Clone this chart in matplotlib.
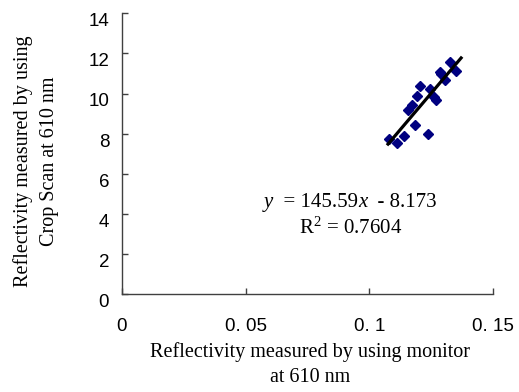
import matplotlib.pyplot as plt
from matplotlib.offsetbox import AnnotationBbox, HPacker, TextArea
from matplotlib.transforms import ScaledTranslation

# monitor reflectivity vs Crop Scan reflectivity at 610 nm
monitor = [0.1080, 0.1113, 0.1140, 0.1185, 0.1235, 0.1154, 0.1171, 0.1192, 0.1205,
           0.1246, 0.1259, 0.1269, 0.1285, 0.1290, 0.1304, 0.1325, 0.1348]
cropscan = [7.72, 7.52, 7.87, 8.41, 7.97, 9.16, 9.45, 9.89, 10.39,
            10.21, 9.85, 9.68, 11.07, 10.97, 10.67, 11.56, 11.14]

slope = 145.59
intercept = -8.173
r2 = 0.7604
fit_x = [0.1075, 0.137]

x_ticks = [0, 0.05, 0.1, 0.15]
x_ticklabels = ['0', '0. 05', '0. 1', '0. 15']
y_ticks = [0, 2, 4, 6, 8, 10, 12, 14]

serif = ['Liberation Serif', 'DejaVu Serif']
sans = ['Liberation Sans', 'DejaVu Sans']

plt.rcParams['mathtext.fontset'] = 'custom'
plt.rcParams['mathtext.rm'] = 'Liberation Serif'
plt.rcParams['mathtext.it'] = 'Liberation Serif:italic'

fig = plt.figure(figsize=(5.19, 3.92), dpi=100)
ax = fig.add_axes([121.7 / 519, 98 / 392, 371.6 / 519, 280.7 / 392])

ax.plot(monitor, cropscan, linestyle='none', marker='D', markersize=5,
        color='#000080', zorder=3)
fit_y = [slope * v + intercept for v in fit_x]
ax.plot(fit_x, fit_y, color='black', linewidth=2.3, zorder=4)

ax.set_xlim(0, 0.15)
ax.set_ylim(0, 14)
ax.set_xticks(x_ticks)
ax.set_xticklabels(x_ticklabels, family=sans, fontsize=13.5)
ax.set_yticks(y_ticks)
ax.set_yticklabels([str(v) for v in y_ticks], family=sans, fontsize=13.5)
ax.tick_params(direction='in', length=4, width=1, color='#404040')
ax.tick_params(axis='x', pad=17)
ax.tick_params(axis='y', pad=9)
# y tick labels sit a little below their ticks in the original
shift = ScaledTranslation(0, -0.065, fig.dpi_scale_trans)
for lab in ax.get_yticklabels():
    lab.set_transform(lab.get_transform() + shift)

for side in ['top', 'right']:
    ax.spines[side].set_visible(False)
for side in ['left', 'bottom']:
    ax.spines[side].set_color('#404040')
    ax.spines[side].set_linewidth(1)

ax.set_xlabel('Reflectivity measured by using monitor\nat 610 nm',
              family=serif, fontsize=14.5, linespacing=1.45)
ax.xaxis.set_label_coords(0.508, -0.17)
ax.set_ylabel('Reflectivity measured by using\nCrop Scan at 610 nm',
              family=serif, fontsize=14.5, linespacing=1.45)
ax.yaxis.set_label_coords(-0.17, 0.472)

# regression equation, italic y and x
pieces = [('y', 'italic'), ('  = 145.59', 'normal'), ('x', 'italic'), ('  - 8.173', 'normal')]
boxes = [TextArea(s, textprops=dict(family=serif, fontsize=15, style=st))
         for s, st in pieces]
eq = HPacker(children=boxes, pad=0, sep=0, align='baseline')
ax.add_artist(AnnotationBbox(eq, (0.0922, 4.54), frameon=False,
                             box_alignment=(0.5, 0.5), pad=0))
ax.text(0.0922, 3.29, r'R$^2$ = 0.7604', family=serif, fontsize=15,
        ha='center', va='center')

fig.savefig('out.png', dpi=100)
